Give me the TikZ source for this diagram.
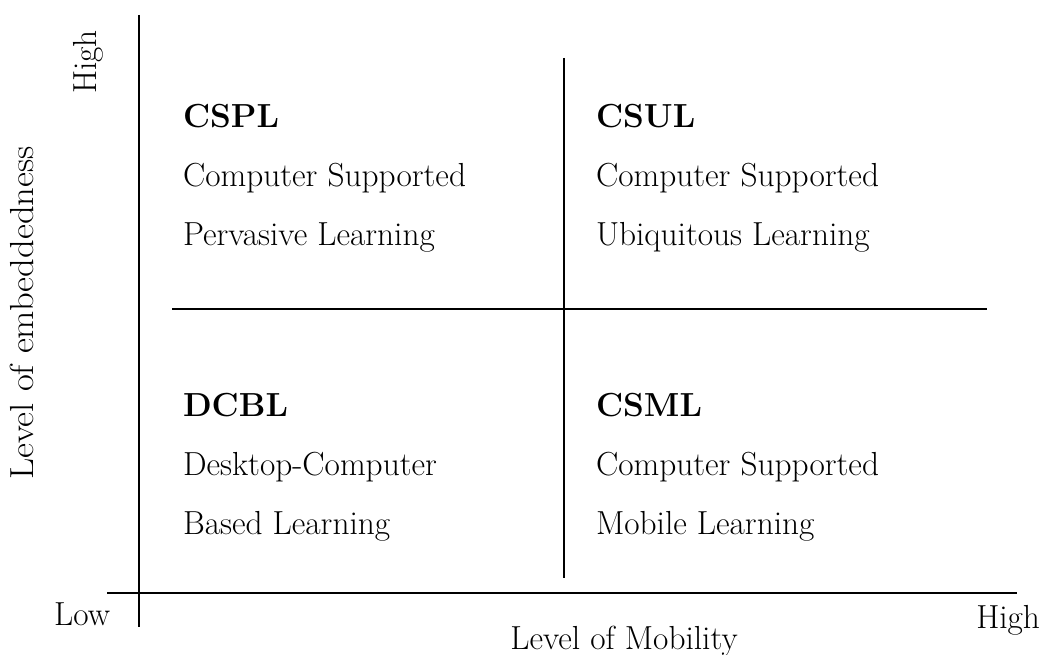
\documentclass[tikz,border=0pt]{standalone}
\tikzset{
  axisline/.style={draw=black,line width=1.3pt,line cap=butt},
  quadtext/.style={anchor=base west,inner sep=0pt,outer sep=0pt,font=\fontsize{25}{30}\selectfont},
  quadhead/.style={quadtext,font=\fontsize{25}{30}\selectfont\bfseries},
  axislabel/.style={inner sep=0pt,outer sep=0pt,font=\fontsize{25}{30}\selectfont}
}
\begin{document}
\begin{tikzpicture}[y=0.75pt, x=0.75pt, yscale=-1.000000, xscale=1.000000, inner sep=0pt, outer sep=0pt]
  \useasboundingbox (0,0) rectangle (1044,655);
  % axes and quadrant lines
  \coordinate (ytop) at (139,15);
  \coordinate (ybot) at (139,627);
  \coordinate (xleft) at (107,593);
  \coordinate (xright) at (1017,593);
  \coordinate (midtop) at (564,58);
  \coordinate (midbot) at (564,578);
  \coordinate (midleft) at (172,309);
  \coordinate (midright) at (987,309);
  \path[axisline] (ytop) -- (ybot);
  \path[axisline] (xleft) -- (xright);
  \path[axisline] (midtop) -- (midbot);
  \path[axisline] (midleft) -- (midright);
  % quadrants
  \node[quadhead] (cspl) at (183,128) {CSPL};
  \node[quadtext] (cspla) at (183,187) {Computer Supported};
  \node[quadtext] (csplb) at (183,246) {Pervasive Learning};
  \node[quadhead] (csul) at (596,128) {CSUL};
  \node[quadtext] (csula) at (596,187) {Computer Supported};
  \node[quadtext] (csulb) at (596,246) {Ubiquitous Learning};
  \node[quadhead] (dcbl) at (183,416) {DCBL};
  \node[quadtext] (dcbla) at (183,475) {Desktop-Computer};
  \node[quadtext] (dcblb) at (183,534) {Based Learning};
  \node[quadhead] (csml) at (596,416) {CSML};
  \node[quadtext] (csmla) at (596,475) {Computer Supported};
  \node[quadtext] (csmlb) at (596,534) {Mobile Learning};
  % axis labels
  \node[axislabel,rotate=90] (yhigh) at (88,62) {High};
  \node[axislabel,rotate=90,xscale=1.1] (ytitle) at (22,313) {Level of embeddedness};
  \node[axislabel,anchor=base east] (xlow) at (110,625) {Low};
  \node[axislabel,anchor=base east] (xhigh) at (1040,628) {High};
  \node[axislabel,anchor=base] (xtitle) at (624,649) {Level of Mobility};
\end{tikzpicture}
\end{document}
